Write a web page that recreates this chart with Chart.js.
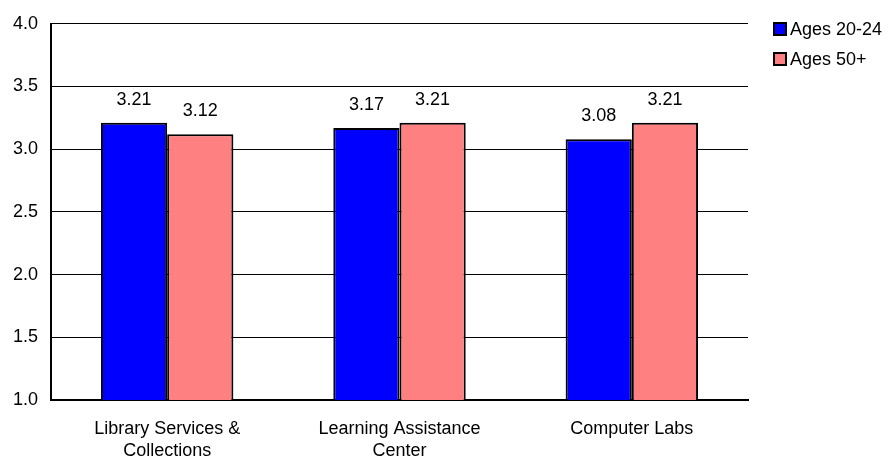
<!DOCTYPE html>
<html>
<head>
<meta charset="utf-8">
<script src="https://cdn.jsdelivr.net/npm/chart.js@4"></script>
<style>
  html, body { margin: 0; padding: 0; background: #fff; }
  #wrap { width: 889px; height: 457px; }
</style>
</head>
<body>
<div id="wrap"><canvas id="myChart"></canvas></div>
<script>
const label = [['Library Services &', 'Collections'], ['Learning Assistance', 'Center'], 'Computer Labs'];
const ages2024 = [3.21, 3.17, 3.08];
const ages50 = [3.12, 3.21, 3.21];

const FONT = 'Arial, "Liberation Sans", sans-serif';
Chart.defaults.font.family = FONT;
Chart.defaults.font.size = 18;
Chart.defaults.color = '#000';

// values printed above each bar
const valueLabels = {
    id: 'valueLabels',
    afterDatasetsDraw(chart) {
        const ctx = chart.ctx;
        ctx.save();
        ctx.font = '18px ' + FONT;
        ctx.fillStyle = '#000';
        ctx.textAlign = 'center';
        ctx.textBaseline = 'middle';
        chart.data.datasets.forEach(function (ds, i) {
            chart.getDatasetMeta(i).data.forEach(function (bar, j) {
                ctx.fillText(ds.data[j].toFixed(2), bar.x, bar.y - 23);
            });
        });
        ctx.restore();
    }
};

// legend to the right of the plot: small framed squares + series names
const sideLegend = {
    id: 'sideLegend',
    afterDraw(chart) {
        const ctx = chart.ctx;
        const x = chart.chartArea.right + 26;
        ctx.save();
        ctx.font = '18px ' + FONT;
        ctx.textBaseline = 'middle';
        chart.data.datasets.forEach(function (ds, i) {
            const y = 29 + i * 30;
            ctx.fillStyle = ds.backgroundColor;
            ctx.fillRect(x, y - 6, 12, 12);
            ctx.strokeStyle = '#000';
            ctx.lineWidth = 2;
            ctx.strokeRect(x, y - 6, 12, 12);
            ctx.fillStyle = '#000';
            ctx.fillText(ds.label, x + 16, y + 1);
        });
        ctx.restore();
    }
};

const chartdata = {
    labels: label,
    datasets: [{
        label: 'Ages 20-24',
        backgroundColor: '#0000ff',
        borderColor: '#000',
        borderWidth: 2,
        borderSkipped: false,
        data: ages2024
    },
    {
        label: 'Ages 50+',
        backgroundColor: '#ff8080',
        borderColor: '#000',
        borderWidth: 2,
        borderSkipped: false,
        data: ages50
    }]
};

const config = {
    type: 'bar',
    data: chartdata,
    options: {
        responsive: true,
        maintainAspectRatio: false,
        animation: false,
        layout: { padding: { top: 11, left: 0, right: 141, bottom: 0 } },
        categoryPercentage: 0.57,
        barPercentage: 1,
        plugins: {
            legend: { display: false },
            tooltip: { enabled: false }
        },
        scales: {
            x: {
                grid: { display: false, drawTicks: false },
                border: { color: '#000', width: 2 },
                ticks: {
                    padding: 19,
                    maxRotation: 0,
                    autoSkip: false,
                    font: { size: 18, lineHeight: 1.17 }
                },
                afterFit: function (scale) { scale.height = 57; }
            },
            y: {
                min: 1,
                max: 4,
                grid: { color: '#000', lineWidth: 1, drawTicks: false },
                border: { color: '#000', width: 2 },
                ticks: {
                    stepSize: 0.5,
                    padding: 13,
                    callback: function (v) { return v.toFixed(1); }
                },
                afterFit: function (scale) { scale.width = 51; }
            }
        }
    },
    plugins: [valueLabels, sideLegend]
};

var myChart = new Chart(document.getElementById('myChart'), config);
</script>
</body>
</html>
